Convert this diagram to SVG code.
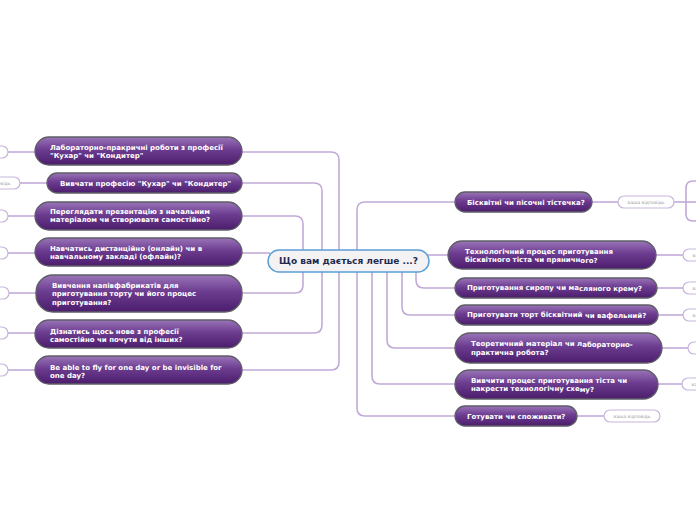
<svg xmlns="http://www.w3.org/2000/svg" width="696" height="520" viewBox="0 0 696 520">
<defs>
<linearGradient id="pg" x1="0" y1="0" x2="0" y2="1">
<stop offset="0" stop-color="#9a74b8"/>
<stop offset="0.45" stop-color="#6c3c90"/>
<stop offset="1" stop-color="#4c1d6c"/>
</linearGradient>
<style>
.n rect{fill:url(#pg);stroke:#5e5e66;stroke-width:1.3}
.n text{font-family:"DejaVu Sans",Verdana,sans-serif;font-weight:bold;font-size:7px;fill:#ffffff}
.c path{fill:none;stroke:#c2aad8;stroke-width:1.6}
.lb rect{fill:#ffffff;stroke:#c9b5dc;stroke-width:1.2}
.lb text{font-family:"DejaVu Sans",Verdana,sans-serif;font-size:4.6px;fill:#9a9a9a;text-anchor:middle}
.ctr rect{fill:#f4f2f3;stroke:#5b9fd6;stroke-width:1.5}
.ctr text{font-family:"DejaVu Sans",Verdana,sans-serif;font-weight:bold;font-size:9px;fill:#1c2b4f;text-anchor:middle}
</style>
</defs>
<rect width="696" height="520" fill="#ffffff"/>
<g id="connectors" class="c">
<path d="M242 152 H331 Q339 152 339 160 V362 Q339 370 331 370 H242"/>
<path d="M242 183 H314 Q322 183 322 191 V325 Q322 333 314 333 H242"/>
<path d="M242 216 H295 Q303 216 303 224 V285 Q303 293 295 293 H242"/>
<path d="M242 253 H270"/>
<path d="M455 202 H365 Q357 202 357 210 V408 Q357 416 365 416 H455"/>
<path d="M372 262 V376 Q372 384 380 384 H455"/>
<path d="M387 262 V340 Q387 348 395 348 H455"/>
<path d="M402 262 V307 Q402 315 410 315 H455"/>
<path d="M416 262 V280 Q416 288 424 288 H455"/>
<path d="M427 255 H448"/>
<path d="M592 202 H618"/>
<path d="M674 202 H696"/>
<path d="M686 202 V188 Q686 181 693 181 H696"/>
<path d="M686 202 V214 Q686 221 693 221 H696"/>
<path d="M656 255 H683"/>
<path d="M657 288 H683"/>
<path d="M658 315 H683"/>
<path d="M662 348 H688"/>
<path d="M658 384 H682"/>
<path d="M577 416 H604"/>
<path d="M8 152 H35"/>
<path d="M20 183 H47"/>
<path d="M8 216 H35"/>
<path d="M8 253 H35"/>
<path d="M9 293 H36"/>
<path d="M8 333 H35"/>
<path d="M8 370 H35"/>
</g>
<g id="labels" class="lb">
<g id="a1"><rect x="-48" y="146" width="56" height="12" rx="6"/><text x="-20" y="153.6">ваша відповідь</text></g>
<g id="a2"><rect x="-36" y="177" width="56" height="12" rx="6"/><text x="-8" y="184.6">ваша відповідь</text></g>
<g id="a3"><rect x="-48" y="210" width="56" height="12" rx="6"/><text x="-20" y="217.6">ваша відповідь</text></g>
<g id="a4"><rect x="-48" y="247" width="56" height="12" rx="6"/><text x="-20" y="254.6">ваша відповідь</text></g>
<g id="a5"><rect x="-47" y="287" width="56" height="12" rx="6"/><text x="-19" y="294.6">ваша відповідь</text></g>
<g id="a6"><rect x="-48" y="327" width="56" height="12" rx="6"/><text x="-20" y="334.6">ваша відповідь</text></g>
<g id="a7"><rect x="-48" y="364" width="56" height="12" rx="6"/><text x="-20" y="371.6">ваша відповідь</text></g>
<g id="b1"><rect x="618" y="196" width="56" height="12" rx="6"/><text x="646" y="203.6">ваша відповідь</text></g>
<g id="b2"><rect x="683" y="249" width="56" height="12" rx="6"/><text x="711" y="256.6">ваша відповідь</text></g>
<g id="b3"><rect x="683" y="282" width="56" height="12" rx="6"/><text x="711" y="289.6">ваша відповідь</text></g>
<g id="b4"><rect x="683" y="309" width="56" height="12" rx="6"/><text x="711" y="316.6">ваша відповідь</text></g>
<g id="b5"><rect x="688" y="342" width="56" height="12" rx="6"/><text x="716" y="349.6">ваша відповідь</text></g>
<g id="b6"><rect x="682" y="378" width="56" height="12" rx="6"/><text x="710" y="385.6">ваша відповідь</text></g>
<g id="b7"><rect x="604" y="410" width="56" height="12" rx="6"/><text x="632" y="417.6">ваша відповідь</text></g>
</g>
<g id="center" class="ctr">
<rect x="268" y="250" width="161" height="22" rx="11"/>
<text x="348.5" y="264.2">Що вам дається легше ...?</text>
</g>
<g id="L1" class="n"><rect x="35" y="137" width="207" height="28" rx="14"/><text x="50" y="149.5">Лабораторно-пракричні роботи з професії</text><text x="50" y="158">"Кухар" чи "Кондитер"</text></g>
<g id="L2" class="n"><rect x="47" y="173" width="195" height="20" rx="10"/><text x="60" y="185.5">Вивчати професію "Кухар" чи "Кондитер"</text></g>
<g id="L3" class="n"><rect x="35" y="202" width="207" height="28" rx="14"/><text x="50" y="213.5">Переглядати презентацію з начальним</text><text x="50" y="222">матеріалом чи створювати самостійно?</text></g>
<g id="L4" class="n"><rect x="35" y="238" width="207" height="28" rx="14"/><text x="50" y="250.5">Навчатись дистанційно (онлайн) чи в</text><text x="50" y="259">навчальному закладі (офлайн)?</text></g>
<g id="L5" class="n"><rect x="36" y="275" width="206" height="37" rx="17"/><text x="52" y="287.5">Вивчення напівфабрикатів для</text><text x="52" y="296">приготування торту чи його процес</text><text x="52" y="304.5">приготування?</text></g>
<g id="L6" class="n"><rect x="35" y="320" width="207" height="28" rx="14"/><text x="50" y="333.5">Дізнатись щось нове з професії</text><text x="50" y="342">самостійно чи почути від інших?</text></g>
<g id="L7" class="n"><rect x="35" y="356" width="207" height="28" rx="14"/><text x="50" y="369.5">Be able to fly for one day or be invisible for</text><text x="50" y="378">one day?</text></g>
<g id="R1" class="n"><rect x="455" y="192" width="137" height="20" rx="10"/><text x="467" y="204.5">Бісквітні чи пісочні тістечка?</text></g>
<g id="R2" class="n"><rect x="448" y="241" width="208" height="28" rx="14"/><text x="465" y="253.5">Технологічний процес приготування</text><text x="465" y="261.8">бісквітного тіста чи пряничн<tspan dy="1.2">ого?</tspan></text></g>
<g id="R3" class="n"><rect x="455" y="278" width="202" height="20" rx="10"/><text x="467" y="290.2">Приготування сиропу чи ма<tspan dy="1.2">сляного  крему?</tspan></text></g>
<g id="R4" class="n"><rect x="455" y="305" width="203" height="20" rx="10"/><text x="467" y="317.2">Приготувати торт бісквітний <tspan dy="1.2">чи вафельний?</tspan></text></g>
<g id="R5" class="n"><rect x="455" y="333" width="207" height="30" rx="15"/><text x="471" y="345.5">Теоретичний матеріал чи л<tspan dy="1.2">абораторно-</tspan></text><text x="471" y="354.5">практична робота?</text></g>
<g id="R6" class="n"><rect x="455" y="370" width="203" height="29" rx="14.5"/><text x="471" y="382.5">Вивчити  процес приготування тіста чи</text><text x="471" y="391">накрести технологічну схе<tspan dy="1.2">му?</tspan></text></g>
<g id="R7" class="n"><rect x="455" y="406" width="122" height="20" rx="10"/><text x="467" y="418.5">Готувати чи споживати?</text></g>
</svg>
